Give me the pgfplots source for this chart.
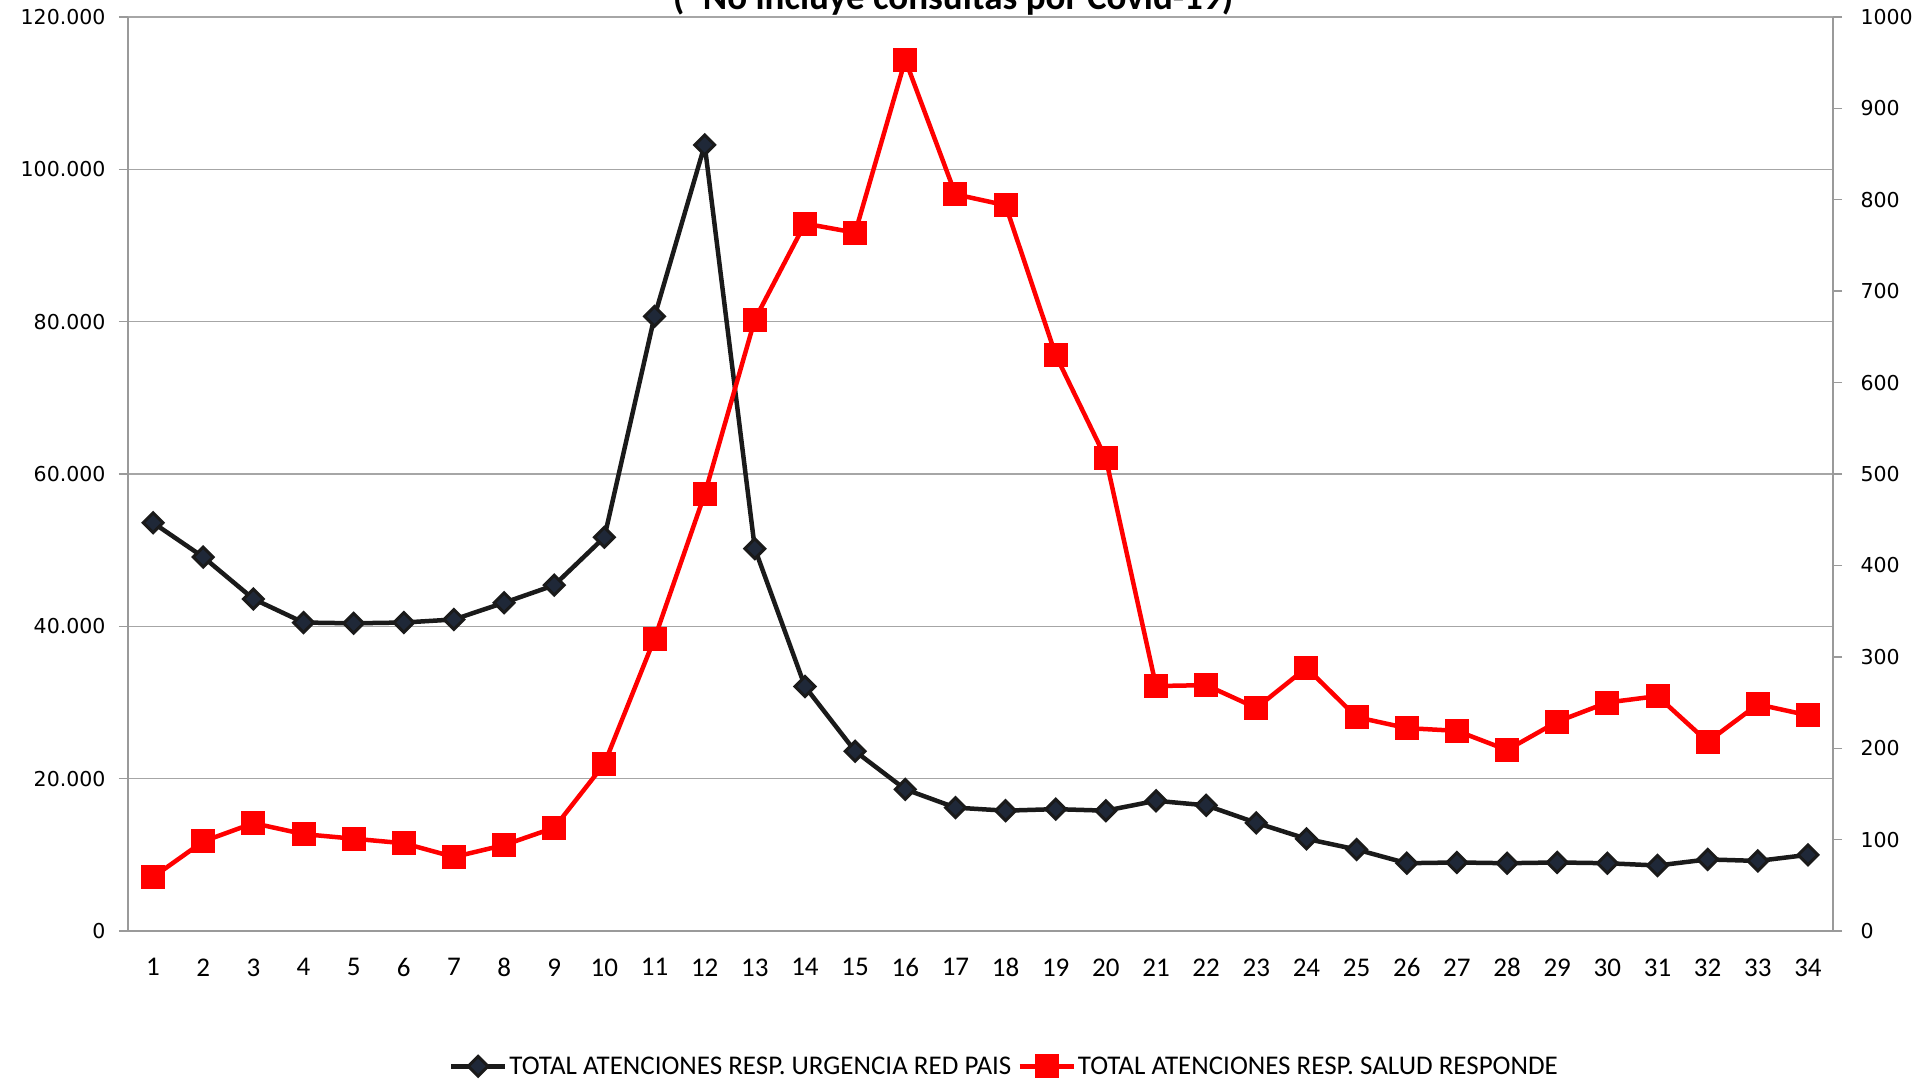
\documentclass[border=0pt]{standalone}
\usepackage{pgfplots}
\pgfplotsset{compat=1.18}
\usepackage{fontspec}
\setmainfont{Carlito}
\newfontfamily\dejavu{DejaVu Sans}
\definecolor{gridgray}{HTML}{A6A6A6}
\definecolor{axisgray}{HTML}{9A9A9A}
\definecolor{serblack}{HTML}{1A1A1A}
\definecolor{serfill}{HTML}{1F2838}
\definecolor{serred}{HTML}{FF0000}
\pgfplotsset{
  blackser/.style={color=serblack, line width=4.5pt, mark=square*, mark size=7pt,
    mark options={solid, rotate=45, fill=serfill, draw=serblack, line width=3pt}},
  redser/.style={color=serred, line width=4.5pt, mark=square*, mark size=11.5pt,
    mark options={solid, fill=serred, draw=serred, line width=1pt, rounded corners=2pt}},
  common/.style={at={(0,0)}, anchor=south west, scale only axis, width=1705pt, height=914pt,
    xmin=0.5, xmax=34.5, axis line style={axisgray, line width=1.4pt, -},
    tick align=outside, major tick length=9pt, tick style={axisgray, line width=1.4pt},
    clip=false},
}
\pgfplotstableread{
x y
1 53600
2 49100
3 43600
4 40500
5 40400
6 40500
7 40900
8 43100
9 45400
10 51700
11 80700
12 103200
13 50200
14 32100
15 23600
16 18600
17 16200
18 15800
19 16000
20 15800
21 17100
22 16500
23 14200
24 12100
25 10700
26 8900
27 9000
28 8900
29 9000
30 8900
31 8600
32 9400
33 9200
34 10000
}\urgencia
\pgfplotstableread{
x y
1 59
2 98
3 118
4 106
5 101
6 96
7 81
8 94
9 113
10 183
11 320
12 478
13 669
14 774
15 764
16 953
17 806
18 794
19 630
20 517
21 268
22 269
23 244
24 288
25 234
26 222
27 219
28 198
29 229
30 250
31 257
32 207
33 248
34 236
}\salud
\begin{document}
\begin{tikzpicture}
\begin{axis}[common, name=ax,
  ymin=0, ymax=120000, ytick={0,20000,40000,60000,80000,100000,120000},
  yticklabels={0,20.000,40.000,60.000,80.000,100.000,120.000},
  axis x line*=bottom, axis y line*=left,
  xtick={1,...,34},
  xticklabels={1,2,3,4,5,6,7,8,9,10,11,12,13,14,15,16,17,18,19,20,21,22,23,24,25,26,27,28,29,30,31,32,33,34},
  xtick style={draw=none},
  xticklabel style={font=\fontsize{27}{27}\selectfont, yshift=-15pt},
  ymajorgrids, grid style={gridgray, line width=1.4pt},
  scaled y ticks=false,
  yticklabel style={font=\dejavu\fontsize{20.5}{20.5}\selectfont, xshift=-10pt},
]
\addplot[blackser] table[x=x,y=y]{\urgencia};
\end{axis}
\begin{axis}[common,
  ymin=0, ymax=1000, ytick={0,100,200,300,400,500,600,700,800,900,1000},
  yticklabels={0,100,200,300,400,500,600,700,800,900,1000},
  axis x line=none, axis y line*=right,
  yticklabel style={font=\dejavu\fontsize{20.5}{20.5}\selectfont, xshift=15pt},
  legend style={at={(0.514,-0.148)}, anchor=center, draw=none, fill=none,
    legend columns=2, font=\fontsize{27}{27}\selectfont,
    /tikz/every even column/.append style={column sep=4pt}},
  legend cell align=left,
  legend image code/.code={\draw[mark repeat=2, mark phase=2, #1] plot coordinates {(0pt,0pt) (27pt,0pt) (54pt,0pt)};},
]
\addlegendimage{blackser}
\addlegendentry{TOTAL ATENCIONES RESP. URGENCIA RED PAIS}
\addplot[redser] table[x=x,y=y]{\salud};
\addlegendentry{TOTAL ATENCIONES RESP. SALUD RESPONDE}
\end{axis}
\node[anchor=base, font=\bfseries\fontsize{37}{37}\selectfont] at ([xshift=825pt, yshift=7pt]ax.north west) {(*No incluye consultas por Covid-19)};
\pgfresetboundingbox
\path[use as bounding box] ([xshift=-128pt, yshift=-150pt]ax.south west) rectangle ([xshift=96pt, yshift=17pt]ax.north east);
\end{tikzpicture}
\end{document}
